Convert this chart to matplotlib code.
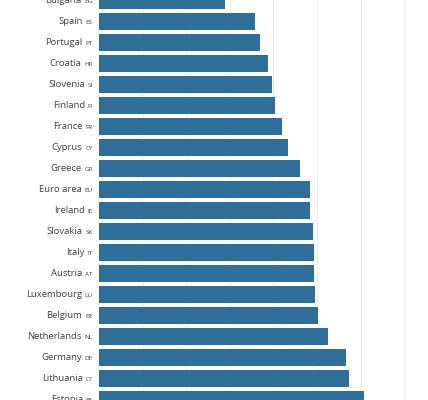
import matplotlib
matplotlib.use('Agg')
from matplotlib import pyplot as plt
from matplotlib.offsetbox import TextArea, HPacker, AnnotationBbox

countries = ['Bulgaria', 'Spain', 'Portugal', 'Croatia', 'Slovenia', 'Finland',
             'France', 'Cyprus', 'Greece', 'Euro area', 'Ireland', 'Slovakia',
             'Italy', 'Austria', 'Luxembourg', 'Belgium', 'Netherlands',
             'Germany', 'Lithuania', 'Estonia']
codes = ['BG', 'ES', 'PT', 'HR', 'SI', 'FI', 'FR', 'CY', 'GR', 'EU', 'IE', 'SK',
         'IT', 'AT', 'LU', 'BE', 'NL', 'DE', 'LT', 'EE']
values = [28.9, 35.8, 36.9, 38.8, 39.7, 40.4, 42.0, 43.4, 46.2, 48.4, 48.4,
          49.0, 49.2, 49.4, 49.6, 50.2, 52.6, 56.6, 57.3, 60.8]

BAR = '#2e6e99'
TXT = '#404040'

plt.rcParams['font.family'] = ['Open Sans', 'DejaVu Sans']

fig = plt.figure(figsize=(4.28, 4.0), dpi=100)
# axes spans whole height; chart is a crop of a taller figure
ax = fig.add_axes([99 / 428, 0, 1 - 99 / 428, 1])

pos = list(range(len(countries)))
ax.barh(pos, values, height=0.8, color=BAR, zorder=2)

# pixel geometry: 21 px per row, first bar centre at y=0.6 px
top = -0.6 / 21
ax.set_ylim(top + 400 / 21, top)
ax.set_xlim(0, 10 * (428 - 99) / 43.6)

ax.set_xticks([10, 20, 30, 40, 50, 60, 70])
ax.grid(axis='x', color='#ebebeb', linewidth=0.8, zorder=0)
ax.tick_params(left=False, bottom=False, labelleft=False, labelbottom=False)
for s in ax.spines.values():
    s.set_visible(False)

# labels: country name + small code
for i, (name, code) in enumerate(zip(countries, codes)):
    t1 = TextArea(name, textprops=dict(fontsize=6.8, color=TXT))
    t2 = TextArea(code, textprops=dict(fontsize=4.6, color=TXT))
    box = HPacker(children=[t1, t2], align='baseline', pad=0, sep=2)
    ab = AnnotationBbox(box, (0, i), xybox=(-4.5, 0), xycoords='data',
                        boxcoords='offset points', box_alignment=(1, 0.5),
                        frameon=False, annotation_clip=False)
    ax.add_artist(ab)

fig.savefig('out.png', dpi=100)
